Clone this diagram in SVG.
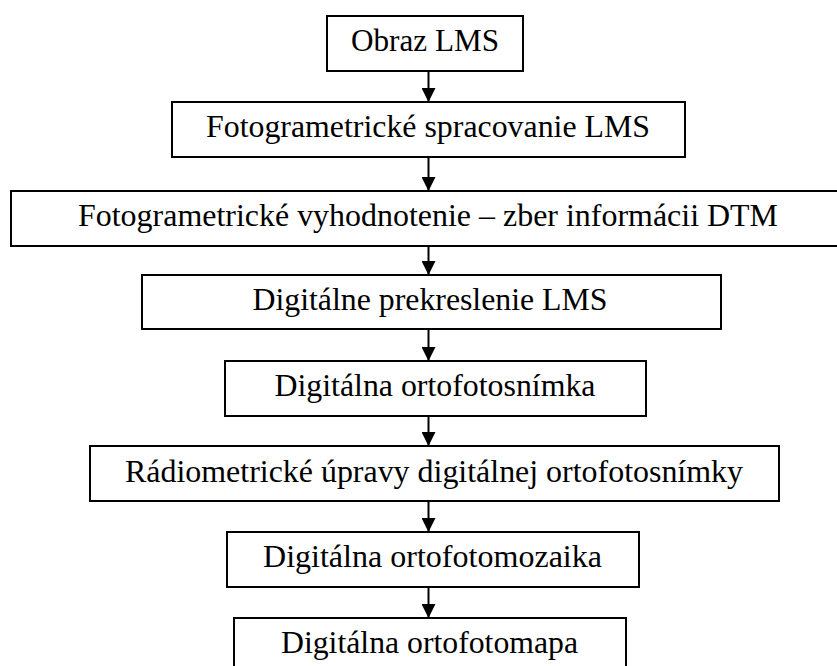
<svg xmlns="http://www.w3.org/2000/svg" width="837" height="666" viewBox="0 0 837 666">
<style>
.box{fill:#fff;stroke:#000;stroke-width:2}
.lbl{font-family:"Liberation Serif","Times New Roman",serif;font-size:32px;fill:#000;text-anchor:middle}
.conn{stroke:#000;stroke-width:2;fill:none;marker-end:url(#ah)}
</style>
<defs>
<marker id="ah" markerUnits="userSpaceOnUse" markerWidth="14" markerHeight="14" viewBox="0 0 14 14" refX="14" refY="7" orient="auto">
<path d="M0,0 L14,7 L0,14 Z" fill="#000"/>
</marker>
</defs>
<rect width="837" height="666" fill="#fff"/>
<g id="connectors">
<line class="conn" x1="428.5" y1="71" x2="428.5" y2="102"/>
<line class="conn" x1="428.5" y1="157" x2="428.5" y2="191"/>
<line class="conn" x1="428.5" y1="246" x2="428.5" y2="275"/>
<line class="conn" x1="428.5" y1="329" x2="428.5" y2="361"/>
<line class="conn" x1="428.5" y1="416" x2="428.5" y2="446"/>
<line class="conn" x1="428.5" y1="501" x2="428.5" y2="532"/>
<line class="conn" x1="428.5" y1="587" x2="428.5" y2="618"/>
</g>
<g id="n1"><rect class="box" x="327" y="16" width="196" height="55"/><text class="lbl" x="425" y="51" textLength="148" lengthAdjust="spacingAndGlyphs">Obraz LMS</text></g>
<g id="n2"><rect class="box" x="172" y="102" width="513" height="55"/><text class="lbl" x="428" y="137" textLength="444" lengthAdjust="spacingAndGlyphs">Fotogrametrické spracovanie LMS</text></g>
<g id="n3"><rect class="box" x="11" y="191" width="832" height="55"/><text class="lbl" x="428" y="226" textLength="700" lengthAdjust="spacingAndGlyphs">Fotogrametrické vyhodnotenie – zber informácii DTM</text></g>
<g id="n4"><rect class="box" x="142" y="275" width="579" height="54"/><text class="lbl" x="430" y="310" textLength="355" lengthAdjust="spacingAndGlyphs">Digitálne prekreslenie LMS</text></g>
<g id="n5"><rect class="box" x="225" y="361" width="421" height="55"/><text class="lbl" x="435" y="396" textLength="321" lengthAdjust="spacingAndGlyphs">Digitálna ortofotosnímka</text></g>
<g id="n6"><rect class="box" x="90" y="446" width="689" height="55"/><text class="lbl" x="434" y="482" textLength="618" lengthAdjust="spacingAndGlyphs">Rádiometrické úpravy digitálnej ortofotosnímky</text></g>
<g id="n7"><rect class="box" x="227" y="532" width="412" height="55"/><text class="lbl" x="432.5" y="567" textLength="339" lengthAdjust="spacingAndGlyphs">Digitálna ortofotomozaika</text></g>
<g id="n8"><rect class="box" x="234" y="618" width="392" height="56"/><text class="lbl" x="429.5" y="653" textLength="297" lengthAdjust="spacingAndGlyphs">Digitálna ortofotomapa</text></g>
</svg>
